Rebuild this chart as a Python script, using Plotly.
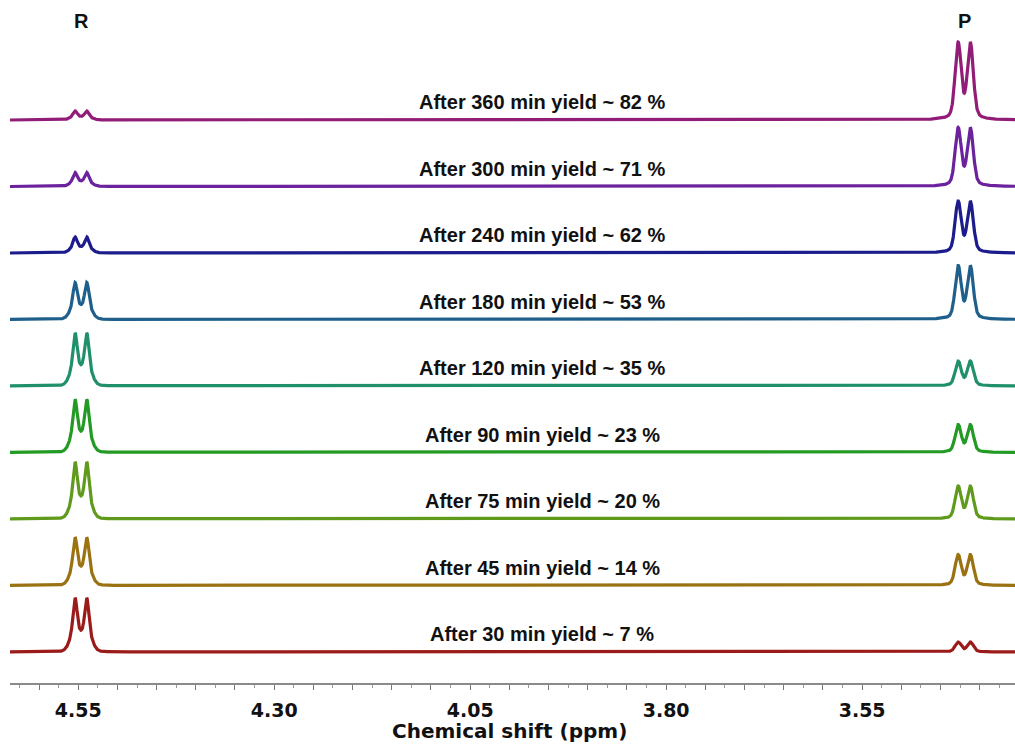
import numpy as np
import plotly.graph_objects as go

# Reaction monitoring by 1H NMR: reactant (R) doublet vs product (P) doublet
times = [30, 45, 75, 90, 120, 180, 240, 300, 360]           # min
yields = [7, 14, 20, 23, 35, 53, 62, 71, 82]                 # %
r_heights = [54, 48, 57, 53, 53, 37, 16, 14, 9]              # R doublet peak height
p_heights = [10, 31, 33, 28, 25, 54, 52, 59, 78]             # P doublet peak height
colors = ["#9b1b1b", "#9a7212", "#5f9a1c", "#239a23", "#20906a",
          "#1f5f8c", "#1c1c8c", "#6c229c", "#921d78"]

r_lines = [4.554, 4.539]    # ppm
p_lines = [3.4275, 3.4120]  # ppm
tick_labels = ["4.55", "4.30", "4.05", "3.80", "3.55"]

x_min, x_max = 3.355, 4.637
ppm = np.linspace(x_max, x_min, 5000)


def lorentz(x, x0, g):
    return 1.0 / (1.0 + ((x - x0) / g) ** 2)


def gauss(x, x0, s):
    return np.exp(-0.5 * ((x - x0) / s) ** 2)


def doublet_r(x):
    s = np.zeros_like(x)
    for c in r_lines:
        s += 0.45 * gauss(x, c, 0.0024) + 0.35 * gauss(x, c, 0.006) + 0.2 * lorentz(x, c, 0.004)
    return s / s.max()


def doublet_p(x):
    s = np.zeros_like(x)
    for c in p_lines:
        s += 0.75 * gauss(x, c, 0.0037) + 0.25 * lorentz(x, c, 0.006)
    return s / s.max()


shape_r = doublet_r(ppm)
shape_p = doublet_p(ppm)

base0, step = 31.0, 66.5
label_font = dict(family="Liberation Sans, Arial", size=20, color="#111111", weight="bold")

fig = go.Figure()
for i, (t, y, hr, hp, col) in enumerate(zip(times, yields, r_heights, p_heights, colors)):
    base = base0 + i * step
    fig.add_trace(go.Scatter(
        x=ppm, y=base + hr * shape_r + hp * shape_p,
        mode="lines", line=dict(color=col, width=3.2),
        hoverinfo="skip", showlegend=False,
    ))
    fig.add_annotation(
        x=3.958, y=base + 18, xref="x", yref="y",
        text=f"After {t} min yield ~ {y} %", showarrow=False,
        font=label_font,
    )

for lab, xc in (("R", 4.546), ("P", 3.420)):
    fig.add_annotation(
        x=xc, y=662, xref="x", yref="y", text=lab, showarrow=False,
        font=label_font,
    )

fig.add_annotation(
    x=0.497, y=-0.0703, xref="paper", yref="paper", yanchor="middle",
    text="Chemical shift (ppm)", showarrow=False,
    font=dict(family="DejaVu Sans", size=20, color="#111111", weight="bold"),
)

major = np.round(np.arange(3.40, 4.651, 0.05), 3)
ticktext = [f"{v:.2f}" if f"{v:.2f}" in tick_labels else "" for v in major]

fig.update_layout(
    width=1015, height=744,
    margin=dict(l=10, r=0, t=0, b=61),
    paper_bgcolor="white", plot_bgcolor="white",
    xaxis=dict(
        range=[x_max, x_min], showgrid=False, zeroline=False,
        showline=True, linecolor="#8a8a8a", linewidth=1.5,
        ticks="outside", ticklen=5, tickwidth=1.2, tickcolor="#777777",
        tickvals=list(major), ticktext=ticktext,
        minor=dict(dtick=0.025, tick0=3.4, ticks="outside", ticklen=3, tickcolor="#999999", tickwidth=1),
        ticklabelstandoff=4,
        tickfont=dict(family="DejaVu Sans", size=19, color="#111111", weight="bold"),
    ),
    yaxis=dict(range=[0, 683], visible=False, fixedrange=True),
)

fig.write_html("out.html")
